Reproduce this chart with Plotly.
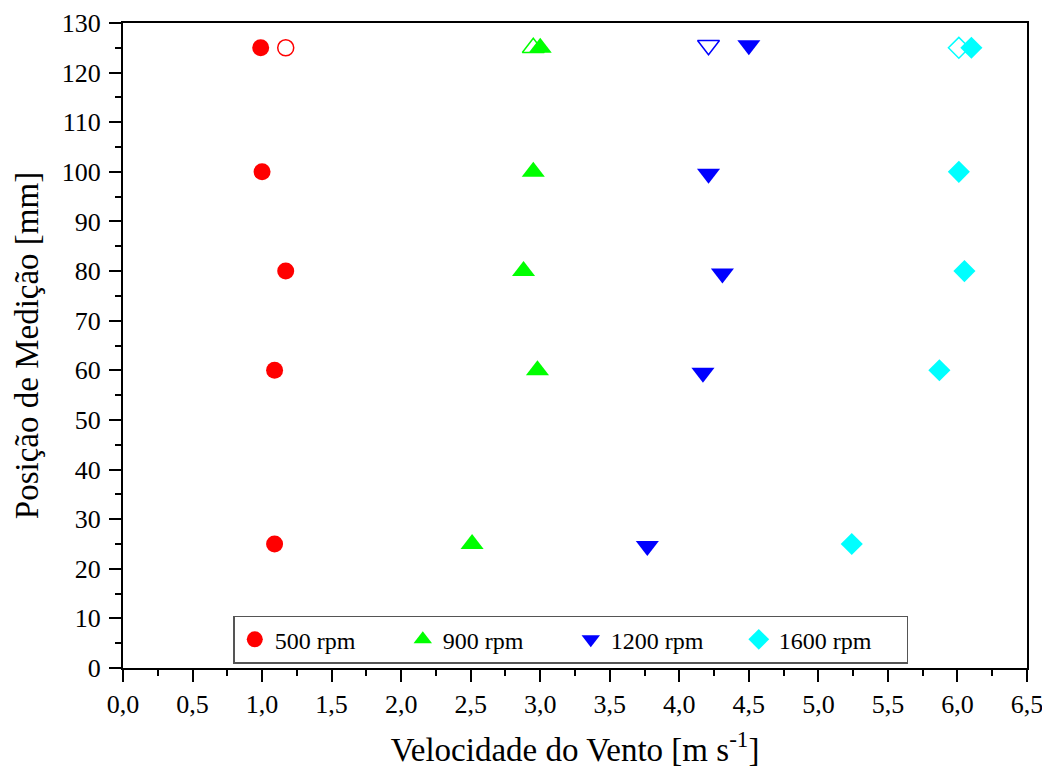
import plotly.graph_objects as go

# Data
positions = [125, 100, 80, 60, 25]
v500 = [0.99, 1.00, 1.17, 1.09, 1.09]
v900 = [3.00, 2.95, 2.88, 2.98, 2.51]
v1200 = [4.50, 4.21, 4.31, 4.17, 3.77]
v1600 = [6.10, 6.01, 6.05, 5.87, 5.24]
pos1200 = [125.5, 99.6, 79.5, 59.5, 24.6]

# Open (second) markers at top position
open_pos = [125, 125, 125.5, 125]
open_v = [1.17, 2.95, 4.21, 6.01]

names = ["500 rpm", "900 rpm", "1200 rpm", "1600 rpm"]
colors = ["#ff0000", "#00ff00", "#0000ff", "#00ffff"]
symbols = ["circle", "triangle-up", "triangle-down", "diamond"]
sizes = [17, 20, 20, 17]

fig = go.Figure()
series_x = [v500, v900, v1200, v1600]
series_y = [positions, positions, pos1200, positions]
for i in range(4):
    fig.add_trace(go.Scatter(
        x=series_x[i], y=series_y[i], mode="markers", name=names[i],
        marker=dict(symbol=symbols[i], color=colors[i], size=sizes[i], line=dict(width=0)),
    ))
for i in range(4):
    fig.add_trace(go.Scatter(
        x=[open_v[i]], y=[open_pos[i]], mode="markers", showlegend=False,
        marker=dict(symbol=symbols[i] + "-open", color=colors[i], size=sizes[i] - 1,
                    line=dict(width=1.5, color=colors[i])),
    ))

font = "Liberation Serif, Times New Roman, serif"
fig.update_layout(
    width=1040, height=760,
    margin=dict(l=115, r=21, t=15, b=100),
    paper_bgcolor="white", plot_bgcolor="white",
    separators=", ",
    font=dict(family=font, color="black", size=24),
    legend=dict(
        orientation="h", x=0.122, y=0.081, xanchor="left", yanchor="top",
        bordercolor="#555555", borderwidth=1.5, bgcolor="white",
        font=dict(family=font, size=24), entrywidth=123,
    ),
    xaxis=dict(
        range=[0, 6.5], dtick=0.5, tick0=0, tickformat=".1f", automargin=False,
        showgrid=False, zeroline=False, showline=True, linecolor="black", linewidth=2,
        mirror=True, ticks="outside", ticklen=12, tickwidth=2, tickcolor="black",
        minor=dict(dtick=0.25, ticks="outside", ticklen=6, tickwidth=2, tickcolor="black"),
        title=dict(text="Velocidade do Vento [m s<sup>-1</sup>]", font=dict(size=33), standoff=38),
        tickfont=dict(size=26),
    ),
    yaxis=dict(
        range=[0, 130], dtick=10, tick0=0, automargin=False, ticklabelstandoff=3,
        showgrid=False, zeroline=False, showline=True, linecolor="black", linewidth=2,
        mirror=True, ticks="outside", ticklen=12, tickwidth=2, tickcolor="black",
        minor=dict(dtick=5, ticks="outside", ticklen=6, tickwidth=2, tickcolor="black"),
        title=dict(text="Posição de Medição [mm]", font=dict(size=33), standoff=13),
        tickfont=dict(size=26),
    ),
)

fig.write_html("out.html")
